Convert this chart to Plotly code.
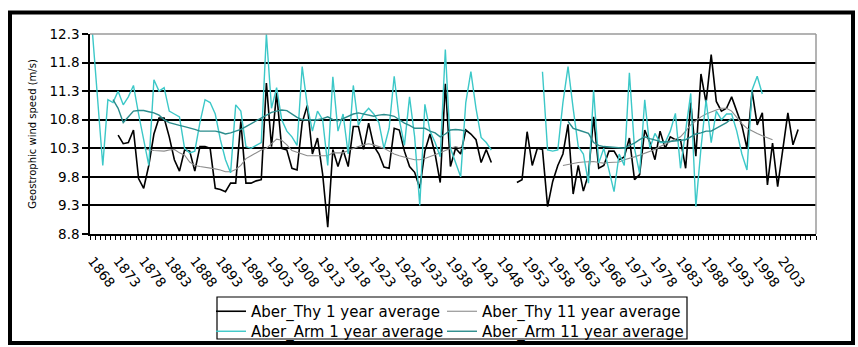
import plotly.graph_objects as go

years = list(range(1868, 2010))
tick_years = list(range(1868, 2004, 5))
tick_labels = [str(y) for y in tick_years]
y_ticks = [8.8, 9.3, 9.8, 10.3, 10.8, 11.3, 11.8, 12.3]

# Aber_Thy 1 year average
thy1_a_start = 1873
thy1_a = [10.53, 10.38, 10.40, 10.62, 9.77, 9.60, 10.00, 10.55, 10.83, 10.83,
          10.50, 10.10, 9.90, 10.27, 10.25, 9.90, 10.33, 10.33, 10.30, 9.60,
          9.58, 9.54, 9.69, 9.69, 10.77, 9.69, 9.69, 9.73, 9.75, 11.44,
          10.33, 11.27, 10.30, 10.27, 9.95, 9.92, 10.75, 11.05, 10.20, 10.48,
          9.85, 8.92, 10.28, 9.98, 10.27, 9.98, 10.68, 10.68, 10.28, 10.74,
          10.34, 10.20, 9.97, 9.95, 10.65, 10.62, 10.25, 9.98, 9.88, 9.60,
          10.25, 10.55, 10.20, 9.70, 11.43, 9.98, 10.30, 10.20, 10.62, 10.55,
          10.45, 10.05, 10.28, 10.05]
thy1_b_start = 1951
thy1_b = [9.70, 9.75, 10.59, 10.00, 10.30, 10.28, 9.28, 9.72, 10.00, 10.20,
          10.72, 9.50, 10.00, 9.55, 9.85, 10.85, 9.95, 10.00, 10.25, 10.25,
          10.10, 10.15, 10.48, 9.75, 9.84, 10.62, 10.40, 10.10, 10.60, 10.30,
          10.50, 10.45, 10.45, 9.95, 11.10, 10.16, 11.60, 11.10, 11.94, 11.12,
          10.95, 11.00, 11.20, 10.95, 10.70, 10.30, 11.30, 10.71, 10.92, 9.66,
          10.39, 9.63, 10.30, 10.92, 10.36, 10.63]

# Aber_Thy 11 year average
thy11_a_start = 1878
thy11_a = [10.30, 10.27, 10.26, 10.25, 10.25, 10.27, 10.28, 10.22, 10.18, 10.06,
           10.00, 9.98, 9.97, 9.95, 9.94, 9.92, 9.89, 9.89, 9.93, 10.00,
           10.12, 10.17, 10.22, 10.27, 10.30, 10.38, 10.46, 10.44, 10.36, 10.26,
           10.23, 10.20, 10.17, 10.17, 10.17, 10.17, 10.17, 10.22, 10.22, 10.22,
           10.26, 10.30, 10.33, 10.36, 10.38, 10.36, 10.33, 10.30, 10.25, 10.20,
           10.17, 10.14, 10.12, 10.10, 10.10, 10.12, 10.15, 10.18, 10.22, 10.26,
           10.30, 10.33, 10.30, 10.28]
thy11_b_start = 1960
thy11_b = [10.00, 10.02, 10.04, 10.05, 10.06, 10.07, 10.07, 10.05, 10.04, 10.05,
           10.06, 10.06, 10.10, 10.12, 10.15, 10.18, 10.21, 10.24, 10.28, 10.33,
           10.37, 10.41, 10.45, 10.50, 10.60, 10.71, 10.78, 10.85, 10.90, 10.94,
           10.97, 11.00, 11.00, 10.95, 10.83, 10.73, 10.65, 10.60, 10.56, 10.52,
           10.48, 10.45]

# Aber_Arm 1 year average
arm1_a_start = 1868
arm1_a = [12.30, 11.20, 10.00, 11.15, 11.10, 11.30, 11.06, 11.20, 11.40, 10.90,
          10.45, 10.00, 11.50, 11.30, 11.36, 10.95, 10.90, 10.85, 10.30, 10.22,
          10.25, 10.75, 11.15, 11.10, 10.90, 10.45, 10.10, 9.87, 11.06, 10.95,
          10.33, 10.30, 10.35, 10.40, 12.30, 11.00, 11.36, 10.80, 10.60, 10.50,
          10.35, 11.73, 11.05, 10.60, 10.95, 10.80, 10.00, 11.55, 10.60, 10.90,
          10.20, 11.40, 10.70, 10.90, 11.00, 10.90, 10.75, 10.30, 10.65, 11.56,
          10.80, 10.35, 11.20, 10.50, 9.30, 11.07, 10.60, 10.40, 10.15, 12.03,
          10.30, 10.05, 9.80, 11.10, 11.64, 11.00, 10.49, 10.40, 10.27]
arm1_b_start = 1956
arm1_b = [11.64, 10.27, 10.25, 10.27, 11.10, 11.73, 11.00, 10.33, 10.20, 9.69,
          11.32, 10.04, 10.30, 9.90, 9.54, 10.20, 10.00, 11.62, 10.30, 9.86,
          11.15, 10.30, 10.56, 10.40, 10.40, 10.60, 10.91, 9.95, 10.60, 11.26,
          9.28, 10.30, 11.15, 10.40, 10.95, 10.80, 10.90, 10.90, 10.60, 10.20,
          9.92, 11.32, 11.56, 11.25]

# Aber_Arm 11 year average
arm11_a_start = 1872
arm11_a = [11.15, 11.00, 10.75, 10.85, 10.95, 10.96, 10.96, 10.94, 10.92, 10.88,
           10.80, 10.75, 10.72, 10.70, 10.68, 10.66, 10.63, 10.60, 10.60, 10.60,
           10.60, 10.58, 10.55, 10.57, 10.60, 10.63, 10.68, 10.73, 10.78, 10.83,
           10.89, 10.93, 10.95, 10.97, 10.96, 10.90, 10.84, 10.80, 10.80, 10.80,
           10.80, 10.82, 10.85, 10.80, 10.78, 10.82, 10.86, 10.90, 10.92, 10.90,
           10.88, 10.86, 10.88, 10.89, 10.88, 10.86, 10.80, 10.74, 10.70, 10.65,
           10.65, 10.65, 10.60, 10.57, 10.50, 10.55, 10.62, 10.63, 10.62, 10.60]
arm11_b_start = 1961
arm11_b = [10.77, 10.65, 10.62, 10.59, 10.56, 10.40, 10.35, 10.33, 10.32, 10.31,
           10.30, 10.30, 10.35, 10.39, 10.45, 10.50, 10.47, 10.44, 10.42, 10.41,
           10.42, 10.42, 10.43, 10.45, 10.50, 10.55, 10.57, 10.60, 10.60, 10.65,
           10.70, 10.75, 10.82]


def build(*segments):
    vals = [None] * len(years)
    for start, seg in segments:
        for k, v in enumerate(seg):
            vals[years.index(start + k)] = v
    return vals


# one legend per entry, arranged in a 2x2 grid: (legend id, left px, top px)
series = [
    ("Aber_Thy 1 year average", build((thy1_a_start, thy1_a), (thy1_b_start, thy1_b)),
     "#000000", 1.6, ("legend", 211, 295)),
    ("Aber_Thy 11 year average", build((thy11_a_start, thy11_a), (thy11_b_start, thy11_b)),
     "#8c8c8c", 1.1, ("legend2", 442, 295)),
    ("Aber_Arm 1 year average", build((arm1_a_start, arm1_a), (arm1_b_start, arm1_b)),
     "#3cc8c8", 1.4, ("legend3", 211, 315)),
    ("Aber_Arm 11 year average", build((arm11_a_start, arm11_a), (arm11_b_start, arm11_b)),
     "#2a8c8c", 1.4, ("legend4", 442, 315)),
]

fig = go.Figure()
for name, vals, color, width, (lg, _, _) in series:
    fig.add_trace(go.Scatter(x=years, y=vals, mode="lines", name=name,
                             line=dict(color=color, width=width),
                             connectgaps=False, legend=lg))

W, H = 858, 347
L, R, T, B = 90, 42, 34, 113
pw, ph = W - L - R, H - T - B


def px(xp):
    return (xp - L) / pw


def py(yp):
    return (H - B - yp) / ph


font = "DejaVu Sans, Verdana, sans-serif"
legfont = dict(size=15, family=font, color="black")

legends = {}
for _, _, _, _, (lg, lx, ly) in series:
    legends[lg] = dict(orientation="h", xref="container", yref="container",
                       x=lx / W, y=1 - ly / H, xanchor="left", yanchor="top",
                       bgcolor="rgba(0,0,0,0)", font=legfont, borderwidth=0,
                       itemwidth=30, tracegroupgap=0)

fig.update_layout(
    width=W, height=H,
    margin=dict(l=L, r=R, t=T, b=B, autoexpand=False),
    paper_bgcolor="white", plot_bgcolor="white",
    font=dict(family=font, color="black"),
    showlegend=True,
    xaxis=dict(
        range=[years[0] - 0.5, years[-1] + 0.5],
        tickmode="array", tickvals=tick_years, ticktext=tick_labels,
        tickangle=52, tickfont=dict(size=13.5, family=font),
        ticks="", ticklabelstandoff=12, automargin=False,
        showgrid=False, zeroline=False,
        showline=True, linecolor="black", linewidth=1.5,
        minor=dict(tickmode="linear", tick0=years[0] - 0.5, dtick=1,
                   ticks="outside", ticklen=4, tickcolor="black", tickwidth=1, showgrid=False),
    ),
    yaxis=dict(
        range=[y_ticks[0], y_ticks[-1]], automargin=False,
        tickmode="array", tickvals=y_ticks, ticktext=[f"{v:.1f}" for v in y_ticks],
        tickfont=dict(size=13.5, family=font),
        ticks="outside", ticklen=6, tickcolor="black", tickwidth=1.5,
        showgrid=True, gridcolor="black", gridwidth=1.6,
        zeroline=False, showline=True, linecolor="black", linewidth=1.5,
        title=dict(text="Geostrophic wind speed (m/s)", font=dict(size=10, family=font), standoff=11),
    ),
    shapes=[
        dict(type="line", xref="paper", yref="paper", x0=0, x1=1, y0=1, y1=1,
             line=dict(color="#9a9a9a", width=1.5), layer="above"),
        dict(type="line", xref="paper", yref="paper", x0=1, x1=1, y0=0, y1=1,
             line=dict(color="#9a9a9a", width=1.5), layer="above"),
        dict(type="rect", xref="paper", yref="paper", x0=px(217), x1=px(687), y0=py(297), y1=py(339),
             line=dict(color="black", width=1.2)),
        dict(type="rect", xref="paper", yref="paper", x0=px(10), x1=px(853), y0=py(12.5), y1=py(343),
             line=dict(color="black", width=4)),
    ],
    **legends,
)

fig.write_html("out.html")
